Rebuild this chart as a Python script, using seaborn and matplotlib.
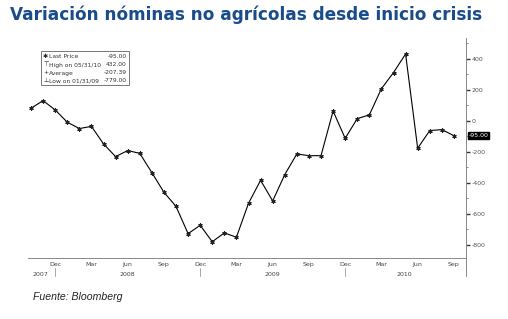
import matplotlib
matplotlib.use("Agg")
import matplotlib.pyplot as plt
import matplotlib.transforms as mtransforms
import numpy as np
import pandas as pd
import seaborn as sns

# ---- data (monthly change in nonfarm payrolls, thousands) ----
months = pd.date_range("2007-10-01", "2010-09-01", freq="MS")
values = [82, 131, 71, -8, -49, -35, -148, -230, -191, -209, -333, -460,
          -551, -727, -673, -779, -722, -750, -531, -383, -516, -346, -213, -224,
          -224, 64, -112, 15, 39, 208, 312, 432, -176, -62, -56, -95]
month_tick_labels = ["Dec", "Mar", "Jun", "Sep"] * 3
year_labels = ["2007", "2008", "2009", "2010"]
year_label_pos = [0.8, 8, 20, 30.9]
year_sep_pos = [2, 14, 26]
y_ticks = [-800, -600, -400, -200, 0, 200, 400]
legend_names = ["Last Price", "High on 05/31/10", "Average", "Low on 01/31/09"]
legend_values = ["-95.00", "432.00", "-207.39", "-779.00"]
legend_icons = ["\u2731", "\u22a4", "+", "\u22a5"]
last_price_label = "-95.00"

df = pd.DataFrame({"idx": np.arange(len(values)), "value": values})

sns.set_theme(style="white")
plt.rcParams['font.family'] = ['DejaVu Sans']

fig = plt.figure(figsize=(5.08, 3.19), dpi=100)
ax = fig.add_axes([28 / 508, 61 / 319, 438 / 508, 220 / 319])

sns.lineplot(data=df, x="idx", y="value", ax=ax, color="black", linewidth=0.8,
             marker=(6, 2, 0), markersize=3, markeredgewidth=0.8,
             markeredgecolor="#222222", markerfacecolor="#222222")

ax.set_xlim(-0.25, 36)
ax.set_ylim(-884, 535)
ax.set_xlabel("")
ax.set_ylabel("")

for s in ["top", "left"]:
    ax.spines[s].set_visible(False)
for s in ["bottom", "right"]:
    ax.spines[s].set_color("#888888")
    ax.spines[s].set_linewidth(0.7)

# y axis on right
ax.yaxis.tick_right()
ax.set_yticks(y_ticks)
ax.set_yticklabels([str(v) for v in y_ticks])
ax.set_yticks(np.arange(-800, 501, 100), minor=True)
ax.tick_params(axis="y", which="major", direction="out", length=3, width=1.0,
               color="#333333", labelsize=4.5, labelcolor="#555555", pad=1)
ax.tick_params(axis="y", which="minor", direction="out", length=1.5, width=0.6,
               color="#777777")

# x axis
quarter_pos = list(range(2, 36, 3))
ax.set_xticks(quarter_pos)
ax.set_xticklabels(month_tick_labels)
ax.set_xticks(np.arange(0, 36, 1), minor=True)
ax.tick_params(axis="x", which="major", direction="inout", length=4, width=0.7,
               color="#555555", labelsize=4.5, labelcolor="#444444", pad=1.2)
ax.tick_params(axis="x", which="minor", direction="inout", length=2.5, width=0.6,
               color="#777777")

trans = mtransforms.blended_transform_factory(ax.transData, ax.transAxes)
for pos, lab in zip(year_label_pos, year_labels):
    ax.text(pos, -0.075, lab, transform=trans, ha="center", va="center",
            fontsize=4.5, color="#444444")
for pos in year_sep_pos:
    ax.plot([pos, pos], [-0.045, -0.08], transform=trans, color="#999999",
            linewidth=0.6, clip_on=False)
ax.plot([1, 1], [0, -0.08], transform=ax.transAxes, color="#888888",
        linewidth=0.7, clip_on=False)

# last price tag
trans_y = mtransforms.blended_transform_factory(ax.transAxes, ax.transData)
ax.text(1.006, values[-1], last_price_label, transform=trans_y, ha="left",
        va="center", fontsize=4.5, color="white",
        bbox=dict(boxstyle="square,pad=0.15", facecolor="black", edgecolor="black"))

# legend box (Bloomberg style)
lx0 = 13 / 438
box = plt.Rectangle((lx0, (258 - 85) / 220), 88 / 438, 34 / 220,
                    transform=ax.transAxes, facecolor="white",
                    edgecolor="#777777", linewidth=0.7)
ax.add_patch(box)
for i, (ic, nm, vl) in enumerate(zip(legend_icons, legend_names, legend_values)):
    yy = (258 - (57 + i * 8)) / 220
    ax.text(lx0 + 2 / 438, yy, ic, transform=ax.transAxes, fontsize=4.5,
            va="center", ha="left", color="#222222")
    ax.text(lx0 + 8 / 438, yy, nm, transform=ax.transAxes, fontsize=4.3,
            va="center", ha="left", color="#333333")
    ax.text(lx0 + 86 / 438, yy, vl, transform=ax.transAxes, fontsize=4.3,
            va="center", ha="right", color="#333333")

# title and source
fig.text(10 / 508, 1 - 15 / 319, "Variación nóminas no agrícolas desde inicio crisis",
         fontsize=12.2, fontweight="bold", color="#1a4c8b", ha="left", va="center",
         family=["DejaVu Sans"])
fig.text(33 / 508, 1 - 297 / 319, "Fuente: Bloomberg", fontsize=7.6,
         style="italic", color="#222222", ha="left", va="center",
         family=["Liberation Sans"])

fig.savefig("out.png", dpi=100)
